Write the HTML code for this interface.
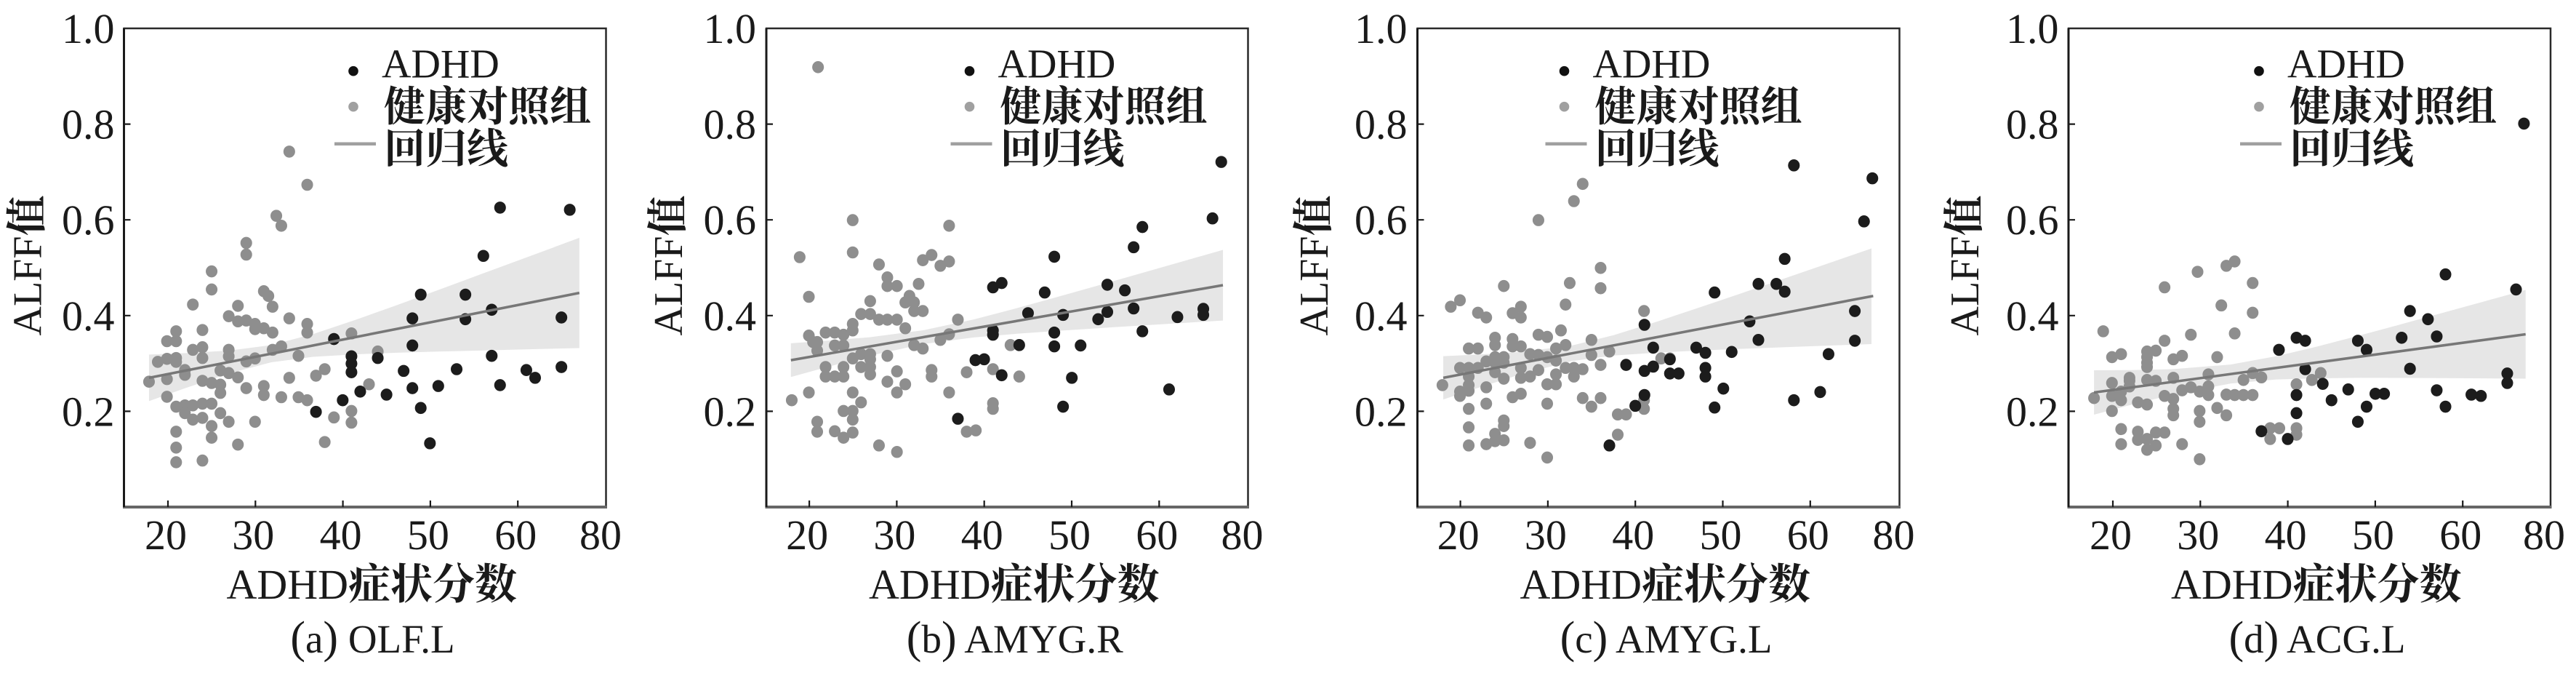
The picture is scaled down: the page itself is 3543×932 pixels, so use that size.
<!DOCTYPE html>
<html><head><meta charset="utf-8"><style>
html,body{margin:0;padding:0;background:#fff;}
svg{display:block;}
.gr circle{fill:#8e8e8e;}
.bk circle{fill:#1c1c1c;}
.t{font-family:"Liberation Serif","Noto Serif CJK SC",serif;fill:#1a1a1a;}
.cj{font-family:"Noto Serif CJK SC","Liberation Serif",serif;font-weight:700;}
</style></head><body>
<svg width="3543" height="932" viewBox="0 0 3543 932" xmlns="http://www.w3.org/2000/svg">
<rect width="3543" height="932" fill="#fff"/>

<!-- ================= PANEL A ================= -->
<g transform="translate(0,2.28) scale(0.5741,0.5923)">
<polygon fill="#e6e6e6" points="357,819 450,815.5 550,809.8 650,797 750,771.6 850,739.1 950,704.6 1050,669.2 1150,633.3 1250,597.7 1388,548 1388,804 1250,807.1 1150,809.7 1050,812 950,814.8 850,818.5 750,824.2 650,837 550,862.4 450,894.9 357,927"/>
<g class="gr">
<circle cx="357" cy="882" r="14"/><circle cx="378" cy="836" r="14"/><circle cx="400" cy="788" r="14"/><circle cx="400" cy="829" r="14"/><circle cx="400" cy="876" r="14"/><circle cx="400" cy="917" r="14"/><circle cx="422" cy="765" r="14"/><circle cx="422" cy="788" r="14"/><circle cx="422" cy="827" r="14"/><circle cx="422" cy="836" r="14"/><circle cx="422" cy="940" r="14"/><circle cx="422" cy="998" r="14"/><circle cx="422" cy="1035" r="14"/><circle cx="422" cy="1069" r="14"/><circle cx="443" cy="855" r="14"/><circle cx="443" cy="866" r="14"/><circle cx="443" cy="937" r="14"/><circle cx="443" cy="955" r="14"/><circle cx="462" cy="703" r="14"/><circle cx="462" cy="808" r="14"/><circle cx="462" cy="937" r="14"/><circle cx="462" cy="970" r="14"/><circle cx="485" cy="762" r="14"/><circle cx="485" cy="802" r="14"/><circle cx="485" cy="827" r="14"/><circle cx="485" cy="880" r="14"/><circle cx="485" cy="933" r="14"/><circle cx="485" cy="966" r="14"/><circle cx="485" cy="1065" r="14"/><circle cx="507" cy="626" r="14"/><circle cx="507" cy="668" r="14"/><circle cx="507" cy="885" r="14"/><circle cx="507" cy="933" r="14"/><circle cx="507" cy="985" r="14"/><circle cx="507" cy="1012" r="14"/><circle cx="528" cy="856" r="14"/><circle cx="528" cy="889" r="14"/><circle cx="528" cy="908" r="14"/><circle cx="528" cy="955" r="14"/><circle cx="548" cy="730" r="14"/><circle cx="548" cy="808" r="14"/><circle cx="548" cy="823" r="14"/><circle cx="548" cy="862" r="14"/><circle cx="548" cy="975" r="14"/><circle cx="570" cy="706" r="14"/><circle cx="570" cy="742" r="14"/><circle cx="570" cy="872" r="14"/><circle cx="570" cy="1028" r="14"/><circle cx="590" cy="560" r="14"/><circle cx="590" cy="587" r="14"/><circle cx="590" cy="740" r="14"/><circle cx="590" cy="835" r="14"/><circle cx="590" cy="897" r="14"/><circle cx="611" cy="748" r="14"/><circle cx="611" cy="760" r="14"/><circle cx="611" cy="828" r="14"/><circle cx="611" cy="975" r="14"/><circle cx="632" cy="672" r="14"/><circle cx="632" cy="758" r="14"/><circle cx="632" cy="892" r="14"/><circle cx="632" cy="913" r="14"/><circle cx="643" cy="683" r="14"/><circle cx="653" cy="708" r="14"/><circle cx="653" cy="768" r="14"/><circle cx="653" cy="808" r="14"/><circle cx="662" cy="497" r="14"/><circle cx="674" cy="520" r="14"/><circle cx="674" cy="800" r="14"/><circle cx="674" cy="918" r="14"/><circle cx="693" cy="348" r="14"/><circle cx="693" cy="735" r="14"/><circle cx="693" cy="873" r="14"/><circle cx="715" cy="822" r="14"/><circle cx="715" cy="918" r="14"/><circle cx="736" cy="425" r="14"/><circle cx="736" cy="748" r="14"/><circle cx="736" cy="768" r="14"/><circle cx="736" cy="925" r="14"/><circle cx="757" cy="868" r="14"/><circle cx="778" cy="853" r="14"/><circle cx="778" cy="1022" r="14"/><circle cx="800" cy="965" r="14"/><circle cx="842" cy="770" r="14"/><circle cx="842" cy="950" r="14"/><circle cx="842" cy="977" r="14"/><circle cx="884" cy="888" r="14"/><circle cx="905" cy="812" r="14"/>
</g>
<g class="bk">
<circle cx="757" cy="952" r="14"/><circle cx="800" cy="783" r="14"/><circle cx="821" cy="925" r="14"/><circle cx="842" cy="823" r="14"/><circle cx="842" cy="840" r="14"/><circle cx="842" cy="860" r="14"/><circle cx="863" cy="905" r="14"/><circle cx="905" cy="827" r="14"/><circle cx="926" cy="912" r="14"/><circle cx="967" cy="857" r="14"/><circle cx="988" cy="735" r="14"/><circle cx="988" cy="798" r="14"/><circle cx="988" cy="897" r="14"/><circle cx="1008" cy="680" r="14"/><circle cx="1008" cy="943" r="14"/><circle cx="1030" cy="1025" r="14"/><circle cx="1050" cy="892" r="14"/><circle cx="1094" cy="853" r="14"/><circle cx="1115" cy="680" r="14"/><circle cx="1115" cy="737" r="14"/><circle cx="1158" cy="590" r="14"/><circle cx="1178" cy="715" r="14"/><circle cx="1178" cy="822" r="14"/><circle cx="1198" cy="478" r="14"/><circle cx="1198" cy="890" r="14"/><circle cx="1261" cy="855" r="14"/><circle cx="1282" cy="873" r="14"/><circle cx="1345" cy="733" r="14"/><circle cx="1345" cy="848" r="14"/><circle cx="1365" cy="483" r="14"/>
</g>
<line x1="357" y1="873" x2="1388" y2="676" stroke="#777" stroke-width="6"/>
</g>

<!-- ================= PANEL B ================= -->
<g transform="translate(880,2.28) scale(0.5741,0.5923)">
<polygon fill="#e6e6e6" points="362,792.9 450,786.8 550,778.8 680,762.5 800,737.5 900,712.2 1000,685.5 1100,658.1 1200,630.6 1300,602.9 1397,576 1397,740 1300,745.7 1200,751.6 1100,757.7 1000,764.1 900,771 800,779.3 680,794.5 550,822 450,847.6 362,871.1"/>
<g class="gr">
<circle cx="427" cy="152" r="14"/><circle cx="383" cy="593" r="14"/><circle cx="405" cy="685" r="14"/><circle cx="364" cy="925" r="14"/><circle cx="405" cy="775" r="14"/><circle cx="415" cy="790" r="14"/><circle cx="425" cy="790" r="14"/><circle cx="425" cy="810" r="14"/><circle cx="405" cy="907" r="14"/><circle cx="425" cy="975" r="14"/><circle cx="425" cy="998" r="14"/><circle cx="445" cy="768" r="14"/><circle cx="445" cy="848" r="14"/><circle cx="445" cy="870" r="14"/><circle cx="467" cy="768" r="14"/><circle cx="467" cy="798" r="14"/><circle cx="467" cy="870" r="14"/><circle cx="467" cy="997" r="14"/><circle cx="488" cy="773" r="14"/><circle cx="488" cy="798" r="14"/><circle cx="488" cy="848" r="14"/><circle cx="488" cy="870" r="14"/><circle cx="488" cy="950" r="14"/><circle cx="488" cy="1012" r="14"/><circle cx="510" cy="507" r="14"/><circle cx="510" cy="582" r="14"/><circle cx="510" cy="748" r="14"/><circle cx="510" cy="763" r="14"/><circle cx="510" cy="828" r="14"/><circle cx="510" cy="907" r="14"/><circle cx="510" cy="950" r="14"/><circle cx="510" cy="970" r="14"/><circle cx="510" cy="1000" r="14"/><circle cx="530" cy="818" r="14"/><circle cx="530" cy="848" r="14"/><circle cx="530" cy="930" r="14"/><circle cx="530" cy="725" r="14"/><circle cx="552" cy="725" r="14"/><circle cx="552" cy="695" r="14"/><circle cx="552" cy="818" r="14"/><circle cx="552" cy="830" r="14"/><circle cx="552" cy="848" r="14"/><circle cx="552" cy="865" r="14"/><circle cx="573" cy="610" r="14"/><circle cx="573" cy="738" r="14"/><circle cx="573" cy="1030" r="14"/><circle cx="593" cy="640" r="14"/><circle cx="593" cy="660" r="14"/><circle cx="593" cy="738" r="14"/><circle cx="593" cy="822" r="14"/><circle cx="593" cy="882" r="14"/><circle cx="616" cy="660" r="14"/><circle cx="616" cy="738" r="14"/><circle cx="616" cy="858" r="14"/><circle cx="616" cy="907" r="14"/><circle cx="616" cy="1045" r="14"/><circle cx="636" cy="698" r="14"/><circle cx="636" cy="758" r="14"/><circle cx="636" cy="888" r="14"/><circle cx="646" cy="683" r="14"/><circle cx="657" cy="698" r="14"/><circle cx="657" cy="718" r="14"/><circle cx="657" cy="797" r="14"/><circle cx="668" cy="655" r="14"/><circle cx="678" cy="600" r="14"/><circle cx="678" cy="718" r="14"/><circle cx="678" cy="805" r="14"/><circle cx="699" cy="588" r="14"/><circle cx="699" cy="855" r="14"/><circle cx="699" cy="870" r="14"/><circle cx="720" cy="613" r="14"/><circle cx="720" cy="785" r="14"/><circle cx="741" cy="520" r="14"/><circle cx="741" cy="603" r="14"/><circle cx="741" cy="772" r="14"/><circle cx="741" cy="907" r="14"/><circle cx="762" cy="738" r="14"/><circle cx="783" cy="860" r="14"/><circle cx="783" cy="998" r="14"/><circle cx="805" cy="995" r="14"/><circle cx="846" cy="853" r="14"/><circle cx="846" cy="932" r="14"/><circle cx="846" cy="945" r="14"/><circle cx="888" cy="797" r="14"/><circle cx="909" cy="870" r="14"/>
</g>
<g class="bk">
<circle cx="762" cy="968" r="14"/><circle cx="804" cy="832" r="14"/><circle cx="825" cy="830" r="14"/><circle cx="846" cy="663" r="14"/><circle cx="846" cy="763" r="14"/><circle cx="846" cy="773" r="14"/><circle cx="867" cy="653" r="14"/><circle cx="867" cy="867" r="14"/><circle cx="909" cy="797" r="14"/><circle cx="930" cy="723" r="14"/><circle cx="970" cy="675" r="14"/><circle cx="993" cy="592" r="14"/><circle cx="993" cy="768" r="14"/><circle cx="993" cy="800" r="14"/><circle cx="1014" cy="727" r="14"/><circle cx="1014" cy="940" r="14"/><circle cx="1035" cy="873" r="14"/><circle cx="1056" cy="798" r="14"/><circle cx="1098" cy="737" r="14"/><circle cx="1120" cy="657" r="14"/><circle cx="1120" cy="720" r="14"/><circle cx="1162" cy="670" r="14"/><circle cx="1183" cy="570" r="14"/><circle cx="1183" cy="712" r="14"/><circle cx="1204" cy="523" r="14"/><circle cx="1204" cy="765" r="14"/><circle cx="1268" cy="900" r="14"/><circle cx="1288" cy="732" r="14"/><circle cx="1350" cy="713" r="14"/><circle cx="1350" cy="727" r="14"/><circle cx="1372" cy="503" r="14"/><circle cx="1393" cy="372" r="14"/>
</g>
<line x1="362" y1="832" x2="1397" y2="658" stroke="#777" stroke-width="6"/>
</g>

<!-- ================= PANEL C ================= -->
<g transform="translate(1760,2.28) scale(0.5741,0.5923)">
<polygon fill="#e6e6e6" points="392,822.7 480,818.7 580,812.6 700,798.2 800,774.1 900,743.9 1000,711.6 1100,678.8 1200,645.5 1300,612.2 1418,572.7 1418,794.7 1300,798.8 1200,802.3 1100,806 1000,810 900,814.7 800,821.3 700,834.2 580,864 480,894.9 392,923.3"/>
<g class="gr">
<circle cx="390" cy="890" r="14"/><circle cx="410" cy="708" r="14"/><circle cx="432" cy="693" r="14"/><circle cx="432" cy="850" r="14"/><circle cx="432" cy="905" r="14"/><circle cx="432" cy="915" r="14"/><circle cx="453" cy="805" r="14"/><circle cx="453" cy="850" r="14"/><circle cx="453" cy="870" r="14"/><circle cx="453" cy="890" r="14"/><circle cx="453" cy="903" r="14"/><circle cx="453" cy="945" r="14"/><circle cx="453" cy="988" r="14"/><circle cx="453" cy="1030" r="14"/><circle cx="475" cy="722" r="14"/><circle cx="475" cy="805" r="14"/><circle cx="475" cy="850" r="14"/><circle cx="495" cy="733" r="14"/><circle cx="495" cy="835" r="14"/><circle cx="495" cy="895" r="14"/><circle cx="495" cy="933" r="14"/><circle cx="495" cy="1027" r="14"/><circle cx="516" cy="780" r="14"/><circle cx="516" cy="797" r="14"/><circle cx="516" cy="825" r="14"/><circle cx="516" cy="838" r="14"/><circle cx="516" cy="860" r="14"/><circle cx="516" cy="1003" r="14"/><circle cx="516" cy="1020" r="14"/><circle cx="537" cy="660" r="14"/><circle cx="537" cy="825" r="14"/><circle cx="537" cy="838" r="14"/><circle cx="537" cy="875" r="14"/><circle cx="537" cy="972" r="14"/><circle cx="537" cy="985" r="14"/><circle cx="537" cy="1018" r="14"/><circle cx="558" cy="723" r="14"/><circle cx="558" cy="783" r="14"/><circle cx="558" cy="800" r="14"/><circle cx="558" cy="918" r="14"/><circle cx="578" cy="708" r="14"/><circle cx="578" cy="733" r="14"/><circle cx="578" cy="800" r="14"/><circle cx="578" cy="850" r="14"/><circle cx="578" cy="873" r="14"/><circle cx="578" cy="910" r="14"/><circle cx="600" cy="818" r="14"/><circle cx="600" cy="870" r="14"/><circle cx="600" cy="1024" r="14"/><circle cx="620" cy="507" r="14"/><circle cx="620" cy="773" r="14"/><circle cx="620" cy="820" r="14"/><circle cx="620" cy="855" r="14"/><circle cx="641" cy="778" r="14"/><circle cx="641" cy="825" r="14"/><circle cx="641" cy="888" r="14"/><circle cx="641" cy="933" r="14"/><circle cx="641" cy="1058" r="14"/><circle cx="662" cy="805" r="14"/><circle cx="662" cy="833" r="14"/><circle cx="662" cy="865" r="14"/><circle cx="662" cy="888" r="14"/><circle cx="674" cy="763" r="14"/><circle cx="685" cy="703" r="14"/><circle cx="685" cy="797" r="14"/><circle cx="685" cy="850" r="14"/><circle cx="695" cy="653" r="14"/><circle cx="705" cy="463" r="14"/><circle cx="705" cy="850" r="14"/><circle cx="705" cy="870" r="14"/><circle cx="726" cy="423" r="14"/><circle cx="726" cy="853" r="14"/><circle cx="726" cy="920" r="14"/><circle cx="747" cy="785" r="14"/><circle cx="747" cy="820" r="14"/><circle cx="747" cy="940" r="14"/><circle cx="769" cy="618" r="14"/><circle cx="769" cy="665" r="14"/><circle cx="769" cy="843" r="14"/><circle cx="769" cy="920" r="14"/><circle cx="790" cy="812" r="14"/><circle cx="810" cy="958" r="14"/><circle cx="810" cy="1005" r="14"/><circle cx="830" cy="958" r="14"/><circle cx="873" cy="718" r="14"/><circle cx="873" cy="925" r="14"/><circle cx="873" cy="945" r="14"/><circle cx="914" cy="828" r="14"/><circle cx="935" cy="828" r="14"/>
</g>
<g class="bk">
<circle cx="790" cy="1030" r="14"/><circle cx="830" cy="843" r="14"/><circle cx="852" cy="938" r="14"/><circle cx="874" cy="750" r="14"/><circle cx="874" cy="857" r="14"/><circle cx="874" cy="913" r="14"/><circle cx="895" cy="803" r="14"/><circle cx="895" cy="847" r="14"/><circle cx="935" cy="830" r="14"/><circle cx="935" cy="863" r="14"/><circle cx="956" cy="863" r="14"/><circle cx="998" cy="803" r="14"/><circle cx="1020" cy="815" r="14"/><circle cx="1020" cy="850" r="14"/><circle cx="1020" cy="870" r="14"/><circle cx="1042" cy="675" r="14"/><circle cx="1042" cy="942" r="14"/><circle cx="1063" cy="898" r="14"/><circle cx="1083" cy="813" r="14"/><circle cx="1126" cy="742" r="14"/><circle cx="1147" cy="655" r="14"/><circle cx="1147" cy="785" r="14"/><circle cx="1190" cy="655" r="14"/><circle cx="1210" cy="597" r="14"/><circle cx="1210" cy="673" r="14"/><circle cx="1232" cy="380" r="14"/><circle cx="1232" cy="925" r="14"/><circle cx="1295" cy="906" r="14"/><circle cx="1315" cy="818" r="14"/><circle cx="1378" cy="718" r="14"/><circle cx="1378" cy="787" r="14"/><circle cx="1400" cy="510" r="14"/><circle cx="1420" cy="410" r="14"/>
</g>
<line x1="392" y1="873" x2="1422" y2="683" stroke="#777" stroke-width="6"/>
</g>

<!-- ================= PANEL D ================= -->
<g transform="translate(2643,2.28) scale(0.5741,0.5923)">
<polygon fill="#e6e6e6" points="413,855.5 500,855 600,852.9 740,842.3 850,822.9 950,799.8 1050,774.5 1150,748.4 1250,721.8 1350,695.1 1447,669 1447,875 1350,874.3 1250,873.6 1150,873.2 1050,873.1 950,874 850,876.9 740,886.3 600,912.3 500,936.2 413,958.5"/>
<g class="gr">
<circle cx="413" cy="920" r="14"/><circle cx="435" cy="765" r="14"/><circle cx="456" cy="825" r="14"/><circle cx="456" cy="885" r="14"/><circle cx="456" cy="915" r="14"/><circle cx="456" cy="950" r="14"/><circle cx="478" cy="818" r="14"/><circle cx="478" cy="905" r="14"/><circle cx="478" cy="925" r="14"/><circle cx="478" cy="992" r="14"/><circle cx="478" cy="1027" r="14"/><circle cx="498" cy="873" r="14"/><circle cx="498" cy="893" r="14"/><circle cx="498" cy="880" r="14"/><circle cx="518" cy="930" r="14"/><circle cx="518" cy="998" r="14"/><circle cx="518" cy="1017" r="14"/><circle cx="540" cy="812" r="14"/><circle cx="540" cy="825" r="14"/><circle cx="540" cy="838" r="14"/><circle cx="540" cy="848" r="14"/><circle cx="540" cy="878" r="14"/><circle cx="540" cy="935" r="14"/><circle cx="540" cy="1015" r="14"/><circle cx="540" cy="1040" r="14"/><circle cx="561" cy="810" r="14"/><circle cx="561" cy="880" r="14"/><circle cx="561" cy="1000" r="14"/><circle cx="561" cy="1030" r="14"/><circle cx="582" cy="663" r="14"/><circle cx="582" cy="787" r="14"/><circle cx="582" cy="915" r="14"/><circle cx="582" cy="1000" r="14"/><circle cx="603" cy="830" r="14"/><circle cx="603" cy="873" r="14"/><circle cx="603" cy="922" r="14"/><circle cx="603" cy="945" r="14"/><circle cx="603" cy="960" r="14"/><circle cx="624" cy="822" r="14"/><circle cx="624" cy="902" r="14"/><circle cx="624" cy="1027" r="14"/><circle cx="645" cy="773" r="14"/><circle cx="645" cy="895" r="14"/><circle cx="661" cy="627" r="14"/><circle cx="666" cy="905" r="14"/><circle cx="666" cy="950" r="14"/><circle cx="666" cy="975" r="14"/><circle cx="666" cy="1062" r="14"/><circle cx="687" cy="865" r="14"/><circle cx="687" cy="893" r="14"/><circle cx="687" cy="913" r="14"/><circle cx="708" cy="825" r="14"/><circle cx="708" cy="943" r="14"/><circle cx="718" cy="705" r="14"/><circle cx="730" cy="613" r="14"/><circle cx="730" cy="912" r="14"/><circle cx="730" cy="960" r="14"/><circle cx="750" cy="603" r="14"/><circle cx="750" cy="770" r="14"/><circle cx="750" cy="913" r="14"/><circle cx="771" cy="878" r="14"/><circle cx="771" cy="913" r="14"/><circle cx="793" cy="653" r="14"/><circle cx="793" cy="722" r="14"/><circle cx="793" cy="862" r="14"/><circle cx="793" cy="913" r="14"/><circle cx="814" cy="872" r="14"/><circle cx="835" cy="990" r="14"/><circle cx="835" cy="1015" r="14"/><circle cx="857" cy="990" r="14"/><circle cx="898" cy="888" r="14"/><circle cx="898" cy="990" r="14"/><circle cx="898" cy="1005" r="14"/><circle cx="935" cy="878" r="14"/><circle cx="956" cy="862" r="14"/>
</g>
<g class="bk">
<circle cx="814" cy="997" r="14"/><circle cx="856" cy="808" r="14"/><circle cx="877" cy="1015" r="14"/><circle cx="898" cy="780" r="14"/><circle cx="898" cy="913" r="14"/><circle cx="898" cy="955" r="14"/><circle cx="919" cy="787" r="14"/><circle cx="919" cy="853" r="14"/><circle cx="961" cy="887" r="14"/><circle cx="982" cy="925" r="14"/><circle cx="1022" cy="900" r="14"/><circle cx="1045" cy="787" r="14"/><circle cx="1045" cy="975" r="14"/><circle cx="1066" cy="808" r="14"/><circle cx="1066" cy="940" r="14"/><circle cx="1087" cy="910" r="14"/><circle cx="1108" cy="910" r="14"/><circle cx="1150" cy="780" r="14"/><circle cx="1170" cy="718" r="14"/><circle cx="1170" cy="852" r="14"/><circle cx="1213" cy="737" r="14"/><circle cx="1234" cy="777" r="14"/><circle cx="1234" cy="902" r="14"/><circle cx="1255" cy="633" r="14"/><circle cx="1255" cy="940" r="14"/><circle cx="1317" cy="912" r="14"/><circle cx="1340" cy="915" r="14"/><circle cx="1403" cy="863" r="14"/><circle cx="1403" cy="885" r="14"/><circle cx="1424" cy="668" r="14"/><circle cx="1443" cy="283" r="14"/>
</g>
<line x1="413" y1="907" x2="1447" y2="772" stroke="#777" stroke-width="6"/>
</g>

<!-- ================= AXES / FRAMES ================= -->
<g fill="none" stroke="#2a2a2a" stroke-width="2.5">
<rect x="170.5" y="39" width="663" height="658"/>
<rect x="1054" y="39" width="662.5" height="658"/>
<rect x="1949.5" y="39" width="663" height="658"/>
<rect x="2845" y="39" width="663" height="658"/>
</g>
<g stroke="#666" stroke-width="4">
<line x1="169" y1="697" x2="835" y2="697"/>
<line x1="1052.5" y1="697" x2="1718" y2="697"/>
<line x1="1948" y1="697" x2="2614" y2="697"/>
<line x1="2843.5" y1="697" x2="3509.5" y2="697"/>
</g>
<g stroke="#1a1a1a" stroke-width="3">
<line x1="170.5" y1="39" x2="170.5" y2="697"/>
<line x1="1054" y1="39" x2="1054" y2="697"/>
<line x1="1949.5" y1="39" x2="1949.5" y2="697"/>
<line x1="2845" y1="39" x2="2845" y2="697"/>
</g>
<!-- ticks -->
<g stroke="#1a1a1a" stroke-width="2.2">
<path d="M231 697v-9M351.3 697v-9M471.6 697v-9M591.9 697v-9M712.2 697v-9"/>
<path d="M1113.1 697v-9M1233.4 697v-9M1353.7 697v-9M1474 697v-9M1594.3 697v-9"/>
<path d="M2008.6 697v-9M2128.9 697v-9M2249.2 697v-9M2369.5 697v-9M2489.8 697v-9"/>
<path d="M2906 697v-9M3026.3 697v-9M3146.6 697v-9M3266.9 697v-9M3387.2 697v-9"/>
<path d="M170.5 170.6h9M170.5 302.2h9M170.5 433.8h9M170.5 565.4h9"/>
<path d="M1054 170.6h9M1054 302.2h9M1054 433.8h9M1054 565.4h9"/>
<path d="M1949.5 170.6h9M1949.5 302.2h9M1949.5 433.8h9M1949.5 565.4h9"/>
<path d="M2845 170.6h9M2845 302.2h9M2845 433.8h9M2845 565.4h9"/>
</g>

<!-- ================= TEXT ================= -->
<g class="t" font-size="58">
<!-- y tick labels -->
<g text-anchor="end">
<text x="157.5" y="59">1.0</text><text x="157.5" y="190.6">0.8</text><text x="157.5" y="322.2">0.6</text><text x="157.5" y="453.8">0.4</text><text x="157.5" y="585.4">0.2</text>
<text x="1040" y="59">1.0</text><text x="1040" y="190.6">0.8</text><text x="1040" y="322.2">0.6</text><text x="1040" y="453.8">0.4</text><text x="1040" y="585.4">0.2</text>
<text x="1935.5" y="59">1.0</text><text x="1935.5" y="190.6">0.8</text><text x="1935.5" y="322.2">0.6</text><text x="1935.5" y="453.8">0.4</text><text x="1935.5" y="585.4">0.2</text>
<text x="2831.5" y="59">1.0</text><text x="2831.5" y="190.6">0.8</text><text x="2831.5" y="322.2">0.6</text><text x="2831.5" y="453.8">0.4</text><text x="2831.5" y="585.4">0.2</text>
</g>
<!-- x tick labels -->
<g text-anchor="middle">
<text x="228" y="755">20</text><text x="348.3" y="755">30</text><text x="468.6" y="755">40</text><text x="588.9" y="755">50</text><text x="709.2" y="755">60</text><text x="826" y="755">80</text>
<text x="1110.1" y="755">20</text><text x="1230.4" y="755">30</text><text x="1350.7" y="755">40</text><text x="1471" y="755">50</text><text x="1591.3" y="755">60</text><text x="1708.5" y="755">80</text>
<text x="2005.6" y="755">20</text><text x="2125.9" y="755">30</text><text x="2246.2" y="755">40</text><text x="2366.5" y="755">50</text><text x="2486.8" y="755">60</text><text x="2604.5" y="755">80</text>
<text x="2903" y="755">20</text><text x="3023.3" y="755">30</text><text x="3143.6" y="755">40</text><text x="3263.9" y="755">50</text><text x="3384.2" y="755">60</text><text x="3499" y="755">80</text>
</g>
<!-- x labels -->
<text x="311.5" y="823">ADHD<tspan class="cj">症状分数</tspan></text>
<text x="1195" y="823">ADHD<tspan class="cj">症状分数</tspan></text>
<text x="2090.5" y="823">ADHD<tspan class="cj">症状分数</tspan></text>
<text x="2986" y="823">ADHD<tspan class="cj">症状分数</tspan></text>
<!-- y labels -->
<g font-size="56" text-anchor="middle">
<text transform="translate(56.7,365) rotate(-90)">ALFF<tspan class="cj">值</tspan></text>
<text transform="translate(938,365) rotate(-90)">ALFF<tspan class="cj">值</tspan></text>
<text transform="translate(1826,365) rotate(-90)">ALFF<tspan class="cj">值</tspan></text>
<text transform="translate(2721,365) rotate(-90)">ALFF<tspan class="cj">值</tspan></text>
</g>
<!-- captions -->
<g text-anchor="middle" font-size="55">
<text x="512.5" y="897"><tspan font-size="62">(</tspan>a<tspan font-size="62">)</tspan> OLF.L</text>
<text x="1395.8" y="897"><tspan font-size="62">(</tspan>b<tspan font-size="62">)</tspan> AMYG.R</text>
<text x="2291.5" y="897"><tspan font-size="62">(</tspan>c<tspan font-size="62">)</tspan> AMYG.L</text>
<text x="3187" y="897"><tspan font-size="62">(</tspan>d<tspan font-size="62">)</tspan> ACG.L</text>
</g>
</g>

<!-- ================= LEGENDS ================= -->
<g>
<circle cx="486" cy="97.7" r="6.8" fill="#111"/>
<circle cx="486" cy="146.7" r="6.8" fill="#a0a0a0"/>
<line x1="460" y1="197.7" x2="517" y2="197.7" stroke="#a0a0a0" stroke-width="4.5"/>
<text class="t" x="525" y="106.7" font-size="56">ADHD</text>
<text class="t cj" x="528" y="166" font-size="57">健康对照组</text>
<text class="t cj" x="528" y="224" font-size="57">回归线</text>
</g>
<g>
<circle cx="1333.5" cy="97.7" r="6.8" fill="#111"/>
<circle cx="1333.5" cy="146.7" r="6.8" fill="#a0a0a0"/>
<line x1="1307.5" y1="197.7" x2="1364.5" y2="197.7" stroke="#a0a0a0" stroke-width="4.5"/>
<text class="t" x="1372.5" y="106.7" font-size="56">ADHD</text>
<text class="t cj" x="1375.5" y="166" font-size="57">健康对照组</text>
<text class="t cj" x="1375.5" y="224" font-size="57">回归线</text>
</g>
<g>
<circle cx="2151.5" cy="97.7" r="6.8" fill="#111"/>
<circle cx="2151.5" cy="146.7" r="6.8" fill="#a0a0a0"/>
<line x1="2125.5" y1="197.7" x2="2182.5" y2="197.7" stroke="#a0a0a0" stroke-width="4.5"/>
<text class="t" x="2190.5" y="106.7" font-size="56">ADHD</text>
<text class="t cj" x="2193.5" y="166" font-size="57">健康对照组</text>
<text class="t cj" x="2193.5" y="224" font-size="57">回归线</text>
</g>
<g>
<circle cx="3107" cy="97.7" r="6.8" fill="#111"/>
<circle cx="3107" cy="146.7" r="6.8" fill="#a0a0a0"/>
<line x1="3081" y1="197.7" x2="3138" y2="197.7" stroke="#a0a0a0" stroke-width="4.5"/>
<text class="t" x="3146" y="106.7" font-size="56">ADHD</text>
<text class="t cj" x="3149" y="166" font-size="57">健康对照组</text>
<text class="t cj" x="3149" y="224" font-size="57">回归线</text>
</g>
</svg>
</body></html>
